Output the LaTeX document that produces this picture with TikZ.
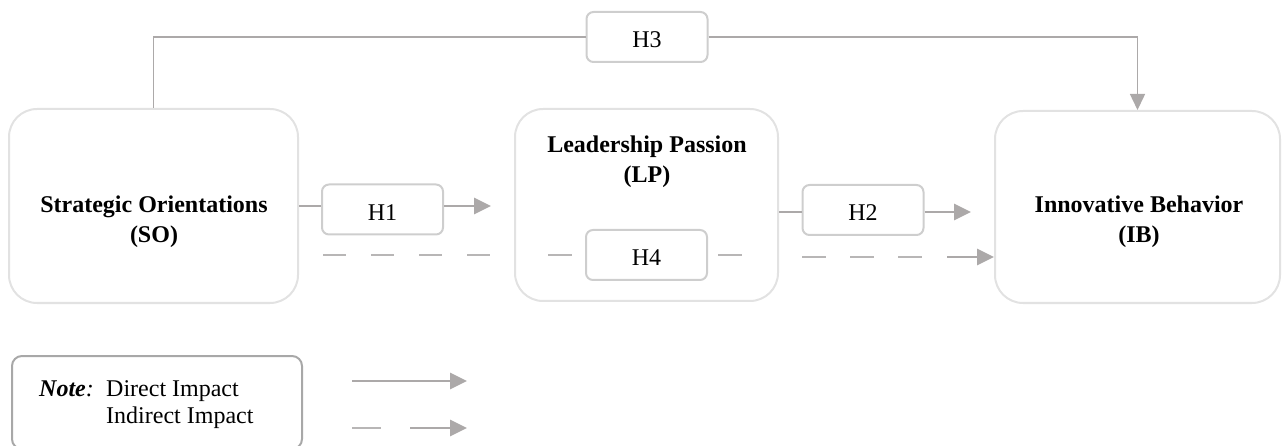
\documentclass[tikz,border=0pt]{standalone}
\usepackage{fontspec}
\setmainfont{Liberation Serif}
\usetikzlibrary{arrows.meta}
\definecolor{bigborder}{RGB}{226,226,226}
\definecolor{hborder}{RGB}{206,206,206}
\definecolor{legborder}{RGB}{168,168,168}
\definecolor{conn}{RGB}{172,169,169}
\definecolor{dashc}{RGB}{184,182,182}
\tikzset{
  bigbox/.style={draw=bigborder, line width=2pt, rounded corners=28pt, inner sep=0pt},
  hbox/.style={draw=hborder, line width=2pt, rounded corners=7pt, inner sep=0pt,
    minimum width=121pt, minimum height=50pt, font=\fontsize{24}{29}\selectfont,
    text height=22pt, text depth=0pt},
  bigtext/.style={align=center, inner sep=0pt, font=\fontsize{24}{30}\selectfont\bfseries},
  legtext/.style={inner sep=0pt, font=\fontsize{24}{27}\selectfont},
  topline/.style={draw=conn, line width=1.5pt},
  hline/.style={draw=conn, line width=2.8pt},
  dashline/.style={draw=dashc, line width=1.5pt},
  tip/.style={-{Triangle[length=17pt,width=16pt]}},
  downtip/.style={-{Triangle[length=16pt,width=15pt]}}
}
\begin{document}
\begin{tikzpicture}[x=1pt,y=-1pt]
\useasboundingbox (0,0) rectangle (1282,446);
\clip (0,0) rectangle (1282,446);
% main boxes
\node[bigbox, minimum width=289pt, minimum height=194pt] (SO) at (153.5,206) {};
\node[bigbox, minimum width=263pt, minimum height=192pt] (LP) at (646.5,205) {};
\node[bigbox, minimum width=285pt, minimum height=192pt] (IB) at (1137.5,207) {};
\node[bigtext] (SOt) at (154,222) {Strategic Orientations\\(SO)};
\node[bigtext] (LPt) at (647,162) {Leadership Passion\\(LP)};
\node[bigtext] (IBt) at (1139,222) {Innovative Behavior\\(IB)};
% hypothesis boxes
\node[hbox] (H3) at (647,37) {H3};
\node[hbox] (H1) at (382.5,209.5) {H1};
\node[hbox] (H2) at (863,210) {H2};
\node[hbox] (H4) at (646.5,255) {H4};
% coordinates
\coordinate (h2y) at (0,212);
\coordinate (d1) at (323,255);
\coordinate (d2) at (490,255);
\coordinate (e1) at (802,257);
\coordinate (e2) at (922,257);
\coordinate (e3) at (947,257);
% H3 path
\draw[topline] (SO.north) |- (H3.west);
\draw[topline, downtip] (H3.east) -| (IB.north);
% H1 path
\draw[hline] (SO.east) -- (SO.east -| H1.west);
\draw[hline, tip, shorten >=23pt] (SO.east -| H1.east) -- (SO.east -| LP.west);
% H2 path
\draw[hline] (LP.east |- h2y) -- (H2.west |- h2y);
\draw[hline, tip, shorten >=23pt] (H2.east |- h2y) -- (IB.west |- h2y);
% H4 indirect path
\draw[dashline, dash pattern=on 23pt off 25pt] (d1) -- (d2);
\draw[dashline] ([xshift=-37pt]H4.west) -- ([xshift=-13pt]H4.west);
\draw[dashline] ([xshift=10pt]H4.east) -- ([xshift=34pt]H4.east);
\draw[dashline, dash pattern=on 24pt off 24pt] (e1) -- (e2);
\draw[hline, tip] (e3) -- (IB.west |- e3);
% legend
\node[draw=legborder, line width=2pt, rounded corners=10pt, minimum width=290pt, minimum height=93pt] (leg) at (157,402.5) {};
\node[legtext, anchor=base west] (leg1) at (39,396) {\makebox[67pt][l]{\textbf{\textit{Note}}\textit{:}}Direct Impact};
\node[legtext, anchor=base west] (leg2) at (106,423) {Indirect Impact};
\coordinate (l1a) at (352,381);
\coordinate (l1b) at (467,381);
\coordinate (l2a) at (352,428);
\coordinate (l2b) at (381,428);
\coordinate (l2c) at (410,428);
\coordinate (l2d) at (467,428);
\draw[hline, tip] (l1a) -- (l1b);
\draw[dashline] (l2a) -- (l2b);
\draw[hline, tip] (l2c) -- (l2d);
\end{tikzpicture}
\end{document}
